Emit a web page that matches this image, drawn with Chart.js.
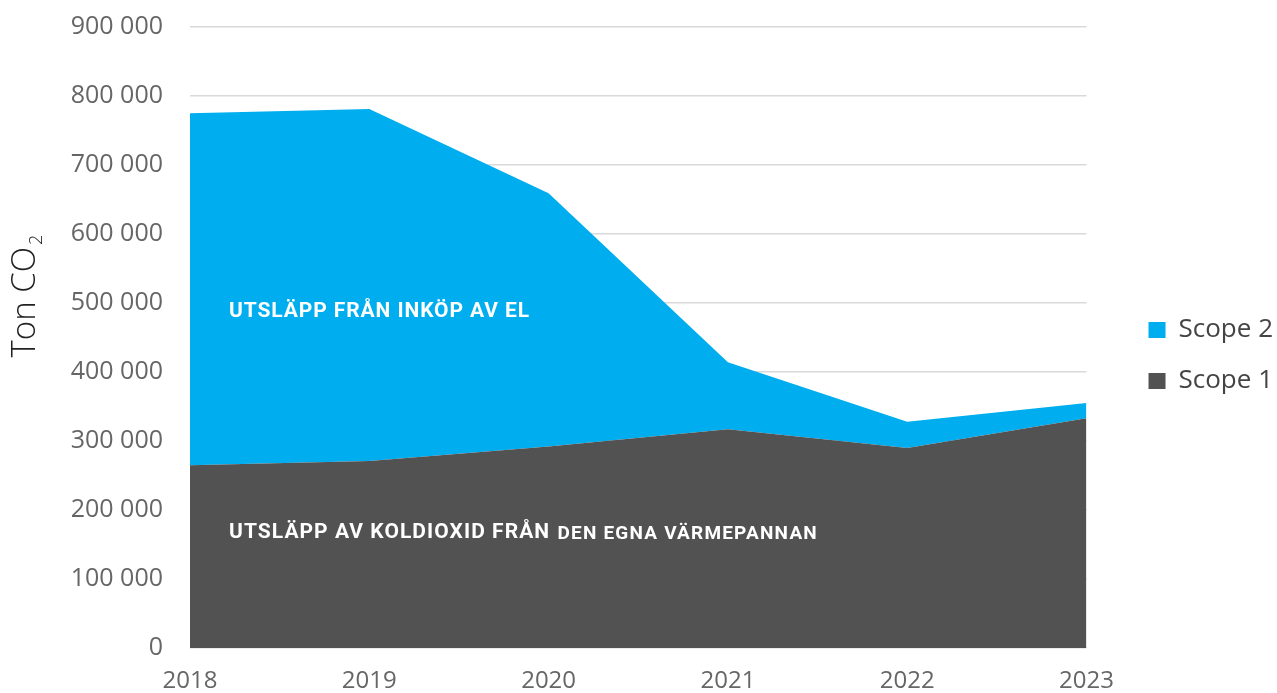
<!DOCTYPE html>
<html lang="sv">
<head>
<meta charset="utf-8">
<title>Ton CO2 – Scope 1 och Scope 2</title>
<script src="https://cdn.jsdelivr.net/npm/chart.js@4.4.1/dist/chart.umd.min.js"></script>
<style>
  html, body { margin: 0; padding: 0; background: #fff; }
  #chart { display: block; }
</style>
</head>
<body>
<canvas id="chart" width="1277" height="693"></canvas>
<script>
const YEARS = ["2018", "2019", "2020", "2021", "2022", "2023"];
const SCOPE_1 = [265000, 271000, 292000, 317000, 290000, 333000];
const SCOPE_2 = [510000, 510000, 367000, 97000, 38000, 22000];
const Y_MIN = 0;
const Y_MAX = 900000;
const Y_STEP = 100000;
const AXIS_TITLE = ["Ton CO", "2"];
const LABEL_SCOPE_2 = "UTSLÄPP FRÅN INKÖP AV EL";
const LABEL_SCOPE_1 = ["UTSLÄPP AV KOLDIOXID FRÅN", "DEN EGNA VÄRMEPANNAN"];

const BLUE = "#00aeef";
const GREY = "#525252";

function formatThousands(v) {
  return String(v).replace(/\B(?=(\d{3})+(?!\d))/g, " ");
}

function setSpacing(ctx, px) {
  if ("letterSpacing" in ctx) ctx.letterSpacing = px + "px";
}

// axis title with a real subscript plus the two white labels inside the areas
const overlayText = {
  id: "overlayText",
  afterDatasetsDraw(chart) {
    const { ctx, scales } = chart;
    const x = scales.x;
    const y = scales.y;
    const left = x.getPixelForValue(0) + 39;

    ctx.save();
    ctx.fillStyle = "#ffffff";
    ctx.textBaseline = "middle";
    ctx.textAlign = "left";
    ctx.font = "bold 21px Roboto";
    setSpacing(ctx, 0.9);
    ctx.fillText(LABEL_SCOPE_2, left, y.getPixelForValue(488000));

    const yy = y.getPixelForValue(167000);
    ctx.font = "bold 21px Roboto";
    setSpacing(ctx, 1.05);
    ctx.fillText(LABEL_SCOPE_1[0], left, yy);
    const w = ctx.measureText(LABEL_SCOPE_1[0] + " ").width;
    ctx.font = "bold 19px Roboto";
    setSpacing(ctx, 1.2);
    ctx.fillText(LABEL_SCOPE_1[1], left + w + 1, yy + 1);
    setSpacing(ctx, 0);
    ctx.restore();

    ctx.save();
    ctx.translate(26, y.getPixelForValue(510000));
    ctx.rotate(-Math.PI / 2);
    ctx.fillStyle = "#222222";
    ctx.textBaseline = "middle";
    ctx.textAlign = "left";
    const mainFont = "300 33px 'Open Sans'";
    const subFont = "300 18px 'Open Sans'";
    ctx.font = mainFont;
    const mainW = ctx.measureText(AXIS_TITLE[0]).width;
    ctx.font = subFont;
    const subW = ctx.measureText(AXIS_TITLE[1]).width;
    const start = -(mainW + subW + 2) / 2;
    ctx.font = mainFont;
    ctx.fillText(AXIS_TITLE[0], start, 0);
    ctx.font = subFont;
    ctx.fillText(AXIS_TITLE[1], start + mainW + 2, 11);
    ctx.restore();
  },
};

new Chart(document.getElementById("chart"), {
  type: "line",
  data: {
    labels: YEARS,
    datasets: [
      {
        label: "Scope 1",
        data: SCOPE_1,
        backgroundColor: GREY,
        borderColor: GREY,
        borderWidth: 0,
        pointRadius: 0,
        fill: "origin",
        tension: 0,
      },
      {
        label: "Scope 2",
        data: SCOPE_2,
        backgroundColor: BLUE,
        borderColor: BLUE,
        borderWidth: 0,
        pointRadius: 0,
        fill: "-1",
        tension: 0,
      },
    ],
  },
  options: {
    responsive: false,
    animation: false,
    layout: { padding: { top: 0, right: -6, bottom: 0, left: 0 } },
    scales: {
      x: {
        grid: { display: false },
        border: { display: false },
        ticks: {
          color: "#666666",
          font: { family: "'Open Sans'", size: 24 },
          padding: 11,
          maxRotation: 0,
          autoSkip: false,
        },
        afterFit: (s) => { s.height = 45; },
      },
      y: {
        stacked: true,
        min: Y_MIN,
        max: Y_MAX,
        grid: { color: "#d9d9d9", lineWidth: 1.5, drawTicks: false },
        border: { display: false },
        ticks: {
          stepSize: Y_STEP,
          color: "#666666",
          font: { family: "'Open Sans'", size: 25 },
          padding: 27,
          callback: (v) => formatThousands(v),
        },
        afterFit: (s) => {
          s.width = 190;
          s.paddingTop = 27;
          s.paddingBottom = 0;
        },
      },
      // empty strip between the plot and the legend
      gap: {
        position: "right",
        display: true,
        grid: { display: false },
        border: { display: false },
        ticks: { display: false },
        afterFit: (s) => { s.width = 37; },
      },
    },
    plugins: {
      legend: {
        position: "right",
        reverse: true,
        title: { display: true, text: " ", font: { size: 10 }, padding: { top: 3, bottom: 3 } },
        labels: {
          boxWidth: 17,
          boxHeight: 16,
          padding: 25,
          color: "#444444",
          font: { family: "'Open Sans'", size: 26 },
        },
      },
      tooltip: { enabled: false },
    },
  },
  plugins: [overlayText],
});
</script>
</body>
</html>
